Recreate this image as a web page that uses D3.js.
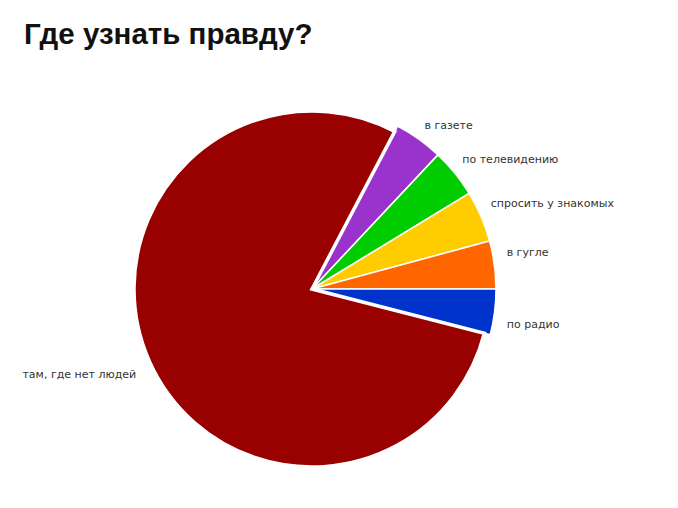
<!DOCTYPE html>
<html>
<head>
<meta charset="utf-8">
<script src="https://cdn.jsdelivr.net/npm/d3@7"></script>
<style>
  body { margin: 0; background: #fff; }
  svg { display: block; }
</style>
</head>
<body>
<div id="chart"></div>
<script>

// --------------------------------------
//  Data
// --------------------------------------

const title = "Где узнать правду?";
const categories = ["в газете", "по телевидению", "спросить у знакомых", "в гугле", "по радио", "там, где нет людей"];
const values = [4.3, 4.3, 4.5, 4.2, 4.0, 78.7];
const colors = ["#9933cc", "#00cc00", "#ffcc00", "#ff6600", "#0033cc", "#990000"];

// --------------------------------------
//  Canvas
// --------------------------------------

const width = 678;
const height = 508;
const cx = 312;
const cy = 289;
const rBig = 178;
const rSmall = 184;
const rLabel = 200;

const svg = d3.select("#chart")
  .append("svg")
    .attr("width", width)
    .attr("height", height);

svg.append("text")
    .attr("x", 24)
    .attr("y", 44)
    .attr("font-family", "Liberation Sans, Arial, sans-serif")
    .attr("font-weight", "bold")
    .attr("font-size", 29.5)
    .attr("fill", "#111")
    .text(title);

const data = categories.map((c, i) => ({name: c, value: values[i], color: colors[i]}));
const bigIndex = d3.maxIndex(values);

// the first four small slices end exactly at 3 o'clock
const smallBefore = d3.sum(values.slice(0, 4)) / d3.sum(values) * 2 * Math.PI;
const start = Math.PI / 2 - smallBefore;

const pie = d3.pie()
    .sort(null)
    .value(d => d.value)
    .startAngle(start)
    .endAngle(start + 2 * Math.PI);

const arcs = pie(data);

const arc = d3.arc()
    .innerRadius(0)
    .outerRadius(d => d.index === bigIndex ? rBig : rSmall);

const g = svg.append("g")
    .attr("transform", `translate(${cx}, ${cy})`);

// small slices first, the big one on top with a thicker white edge
g.selectAll("path")
  .data(arcs.slice().sort((a, b) => (a.index === bigIndex) - (b.index === bigIndex)))
  .join("path")
    .attr("d", arc)
    .attr("fill", d => d.data.color)
    .attr("stroke", "#fff")
    .attr("stroke-width", d => d.index === bigIndex ? 3.5 : 1.5)
    .attr("stroke-linejoin", "miter");

// --------------------------------------
//  Labels
// --------------------------------------

const labels = arcs.map(d => {
  const a = (d.startAngle + d.endAngle) / 2;
  return {
    name: d.data.name,
    x: rLabel * Math.sin(a),
    y: -rLabel * Math.cos(a),
    right: Math.sin(a) >= 0
  };
});

// spread the crowded right-hand labels away from the horizontal,
// sliding them along the label circle
labels.forEach(l => {
  if (!l.right) return;
  l.y += Math.sign(l.y) * 12 * (1 - Math.abs(l.y) / 180);
  l.x = Math.sqrt(rLabel * rLabel - l.y * l.y) - 2;
});

g.selectAll(".label")
  .data(labels)
  .join("text")
    .attr("class", "label")
    .attr("x", d => d.right ? d.x : d.x + 7)
    .attr("y", d => d.right ? d.y : d.y + 4)
    .attr("dy", "0.35em")
    .attr("text-anchor", d => d.right ? "start" : "end")
    .attr("font-family", "DejaVu Sans, Verdana, sans-serif")
    .attr("font-size", 11)
    .attr("fill", "#333")
    .text(d => d.name);

</script>
</body>
</html>
